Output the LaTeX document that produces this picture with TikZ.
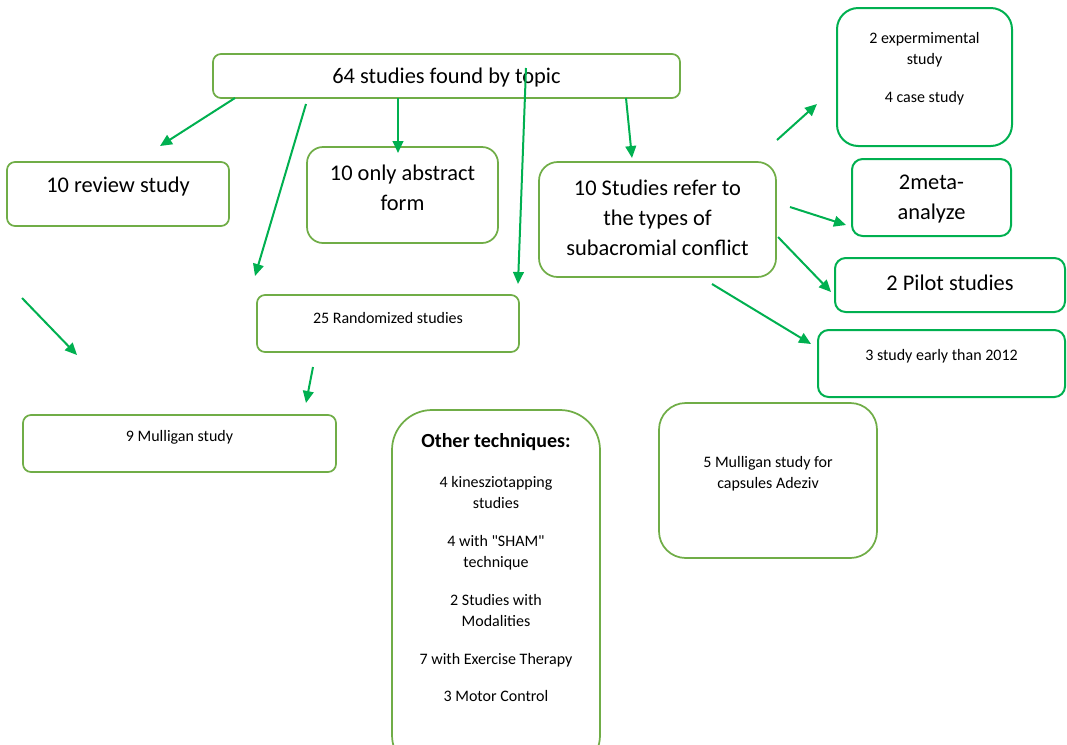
\documentclass[tikz,border=0pt]{standalone}
\usepackage{fontspec}
\setmainfont{Carlito}[Ligatures=TeXOff]
\usetikzlibrary{arrows.meta}
\definecolor{olivegreen}{HTML}{70AD47}
\definecolor{brightgreen}{HTML}{00B050}

\begin{document}
\begin{tikzpicture}[x=0.75pt,y=-0.75pt,
        obox/.style={draw=olivegreen,line width=1.3pt,rounded corners=#1,inner sep=0pt},
        gbox/.style={draw=brightgreen,line width=1.5pt,rounded corners=#1,inner sep=0pt},
        bigtxt/.style={font=\fontsize{16.8}{22.5}\selectfont,align=center,inner sep=0pt},
        smalltxt/.style={font=\fontsize{12}{15.75}\selectfont,align=center,inner sep=0pt},
        arr/.style={draw=brightgreen,line width=1.5pt,-{Triangle[length=9pt,width=8pt]}}]
        \useasboundingbox (0,0) rectangle (1067,744);

        \node[obox=6pt, minimum width=350.25pt, minimum height=33pt] (topic) at (446.5,76) {};
        \node[bigtxt] (topict) at (446.5,78) {64 studies found by topic};

        \node[obox=6pt, minimum width=166.5pt, minimum height=48pt] (review) at (118,194) {};
        \node[bigtxt] (reviewt) at (118,187) {10 review study};

        \node[obox=12pt, minimum width=143.25pt, minimum height=72pt] (abstr) at (402.5,195) {};
        \node[bigtxt] (abstrt) at (402.5,188) {10 only abstract\\form};

        \node[obox=14pt, minimum width=177.75pt, minimum height=86.25pt] (types) at (657.5,219.5) {};
        \node[bigtxt] (typest) at (657.5,218) {10 Studies refer to\\the types of\\subacromial conflict};

        \node[gbox=16pt, minimum width=131.25pt, minimum height=103.5pt] (exper) at (924.5,77) {};
        \node[smalltxt] (expert) at (924.5,69) {2 expermimental\\study\\[12.75pt]4 case study};

        \node[gbox=8pt, minimum width=119.25pt, minimum height=57.75pt] (meta) at (931.5,197.5) {};
        \node[bigtxt] (metat) at (931.5,199) {2meta-\\analyze};

        \node[gbox=8pt, minimum width=172.5pt, minimum height=40.5pt] (pilot) at (950,285) {};
        \node[bigtxt] (pilott) at (950,283) {2 Pilot studies};

        \node[gbox=8pt, minimum width=185.25pt, minimum height=50.25pt] (early) at (941.5,363.5) {};
        \node[smalltxt] (earlyt) at (941.5,356) {3 study early than 2012};

        \node[obox=6pt, minimum width=196.5pt, minimum height=42.75pt] (random) at (388,323.5) {};
        \node[smalltxt] (randomt) at (388,318) {25 Randomized studies};

        \node[obox=6pt, minimum width=234.75pt, minimum height=42.75pt] (mulli) at (179.5,443.5) {};
        \node[smalltxt] (mullit) at (179.5,437) {9 Mulligan study};

        \node[obox=30pt, minimum width=156pt, minimum height=273.75pt] (other) at (496,592.5) {};
        \node[font=\bfseries\fontsize{15}{18}\selectfont, inner sep=0pt] (othert) at (496,442) {Other techniques:};
        \node[smalltxt] (otherl) at (496,589) {4 kinesziotapping\\studies\\[12.75pt]4 with "SHAM"\\technique\\[12.75pt]2 Studies with\\Modalities\\[12.75pt]7 with Exercise Therapy\\[12pt]3 Motor Control};

        \node[obox=20pt, minimum width=163.5pt, minimum height=116.25pt] (caps) at (768,480.5) {};
        \node[smalltxt] (capst) at (768,474) {5 Mulligan study for\\capsules Adeziv};

        \coordinate (a1s) at (235,98);  \coordinate (a1e) at (160,146);
        \coordinate (a2s) at (306,104); \coordinate (a2e) at (255,276);
        \coordinate (a3s) at (398,98);  \coordinate (a3e) at (398,153);
        \coordinate (a4s) at (526,68);  \coordinate (a4e) at (518,284);
        \coordinate (a5s) at (626,98);  \coordinate (a5e) at (632,158);
        \coordinate (a6s) at (777,140); \coordinate (a6e) at (817,104);
        \coordinate (a7s) at (790,207); \coordinate (a7e) at (846,225);
        \coordinate (a8s) at (778,237); \coordinate (a8e) at (831,292);
        \coordinate (a9s) at (712,284); \coordinate (a9e) at (811,344);
        \coordinate (a10s) at (22,298); \coordinate (a10e) at (77,355);
        \coordinate (a11s) at (313,367); \coordinate (a11e) at (306,403);

        \foreach \i in {1,...,11}
            \draw[arr] (a\i s) -- (a\i e);

    \end{tikzpicture}
\end{document}
